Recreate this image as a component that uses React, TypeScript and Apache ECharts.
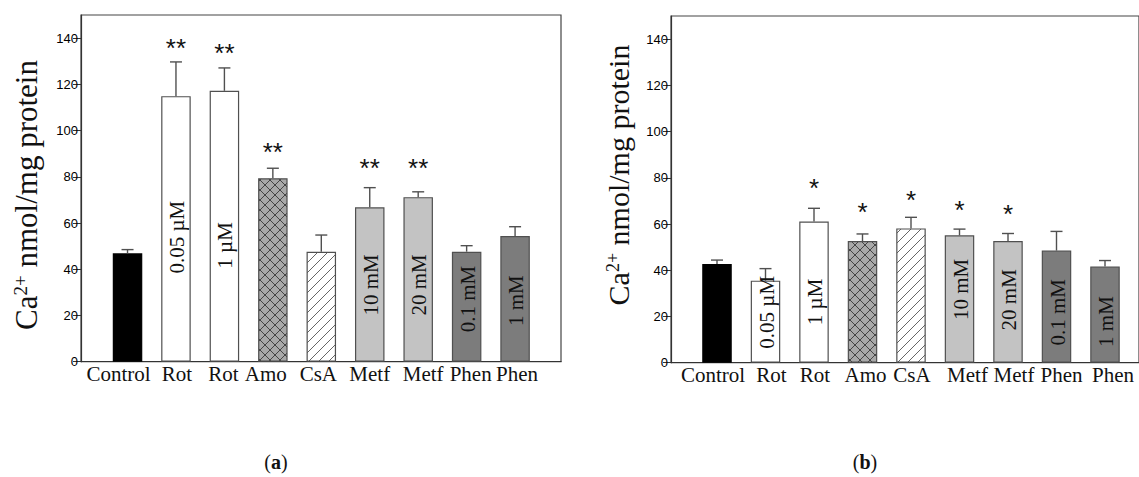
import React, { useEffect, useRef } from 'react';
import * as echarts from 'echarts';

const categories = ['Control', 'Rot', 'Rot', 'Amo', 'CsA', 'Metf', 'Metf', 'Phen', 'Phen'];
const treatments = ['control', 'rot', 'rot', 'amo', 'csa', 'metf', 'metf', 'phen', 'phen'];
const doses = ['', '0.05 µM', '1 µM', '', '', '10 mM', '20 mM', '0.1 mM', '1 mM'];

// Panel (a)
const valuesA = [46.9, 114.9, 117.2, 79.4, 47.6, 66.8, 71.2, 47.6, 54.4];
const errA = [1.6, 14.8, 9.9, 4.3, 7.2, 8.5, 2.3, 2.6, 4.0];
const starsA = ['', '**', '**', '**', '', '**', '**', '', ''];
const starLevelA = [0, 138, 136, 93, 0, 86, 86, 0, 0];
const doseLevelA = [0, 53.9, 50.3, 0, 0, 33.2, 33.2, 27.1, 26.4];

// Panel (b)
const valuesB = [42.7, 35.5, 61.1, 52.6, 58.1, 55.1, 52.6, 48.5, 41.6];
const errB = [1.7, 5.2, 5.7, 3.1, 4.8, 2.7, 3.3, 8.3, 2.6];
const starsB = ['', '', '*', '*', '*', '*', '*', '', ''];
const starLevelB = [0, 0, 77.8, 67.6, 72.7, 68.4, 66.9, 0, 0];
const doseLevelB = [0, 21.8, 26.3, 0, 0, 31.7, 27.2, 21.8, 17.8];

const yTicks = [0, 20, 40, 60, 80, 100, 120, 140];
const yMax = 150;

// horizontal nudges (px) of the category labels, as typeset in the original
const labelShiftA = [-9, 1, -1, -7, -3, 0, 5, 4, 2];
const labelShiftB = [-4, 6, 1, 3, 1, 8, 6, 5, 8];

function makeCross(): HTMLCanvasElement {
  const c = document.createElement('canvas');
  c.width = 10; c.height = 10;
  const ctx = c.getContext('2d')!;
  ctx.fillStyle = '#a9a9a9';
  ctx.fillRect(0, 0, 10, 10);
  ctx.strokeStyle = '#3a3a3a';
  ctx.lineWidth = 0.9;
  ctx.beginPath();
  ctx.moveTo(0, 0); ctx.lineTo(10, 10);
  ctx.moveTo(10, 0); ctx.lineTo(0, 10);
  ctx.stroke();
  return c;
}

function makeHatch(): HTMLCanvasElement {
  const c = document.createElement('canvas');
  c.width = 10; c.height = 10;
  const ctx = c.getContext('2d')!;
  ctx.fillStyle = '#ffffff';
  ctx.fillRect(0, 0, 10, 10);
  ctx.strokeStyle = '#555555';
  ctx.lineWidth = 0.9;
  ctx.beginPath();
  ctx.moveTo(0, 10); ctx.lineTo(10, 0);
  ctx.moveTo(-1, 1); ctx.lineTo(1, -1);
  ctx.moveTo(9, 11); ctx.lineTo(11, 9);
  ctx.stroke();
  return c;
}

function fillFor(kind: string): any {
  switch (kind) {
    case 'control': return '#000000';
    case 'rot': return '#ffffff';
    case 'amo': return { image: makeCross(), repeat: 'repeat' };
    case 'csa': return { image: makeHatch(), repeat: 'repeat' };
    case 'metf': return '#c3c3c3';
    case 'phen': return '#7c7c7c';
  }
  return '#fff';
}

const serif = 'Liberation Serif';
const sans = 'Liberation Sans';

function barSeries(values: number[], axisIdx: number) {
  return {
    type: 'bar',
    xAxisIndex: axisIdx,
    yAxisIndex: axisIdx,
    barWidth: 29.5,
    z: 2,
    data: values.map((v, i) => ({
      value: v,
      itemStyle: {
        color: fillFor(treatments[i]),
        borderColor: treatments[i] === 'control' ? '#000' : '#505050',
        borderWidth: 1.2,
      },
    })),
  };
}

function annoSeries(values: number[], errs: number[], stars: string[], starLevel: number[], doseLevel: number[], axisIdx: number) {
  return {
    type: 'custom',
    xAxisIndex: axisIdx,
    yAxisIndex: axisIdx,
    z: 5,
    data: values.map((v, i) => [i, v]),
    renderItem: (params: any, api: any) => {
      const i = params.dataIndex;
      const base = api.coord([i, values[i]]);
      const top = api.coord([i, values[i] + errs[i]]);
      const children: any[] = [
        { type: 'line', shape: { x1: base[0], y1: base[1], x2: top[0], y2: top[1] }, style: { stroke: '#505050', lineWidth: 1.4 } },
        { type: 'line', shape: { x1: top[0] - 6, y1: top[1], x2: top[0] + 6, y2: top[1] }, style: { stroke: '#505050', lineWidth: 1.4 } },
      ];
      if (stars[i]) {
        const s = api.coord([i, starLevel[i]]);
        children.push({
          type: 'text', x: s[0], y: s[1] + 5.5,
          style: { text: stars[i], fontSize: 26, fontFamily: sans, fill: '#111', align: 'center', verticalAlign: 'middle' },
        });
      }
      if (doses[i]) {
        const d = api.coord([i, doseLevel[i]]);
        children.push({
          type: 'text', x: d[0] + 1, y: d[1], rotation: Math.PI / 2,
          style: { text: doses[i], fontSize: 21, fontFamily: serif, fill: '#111', align: 'center', verticalAlign: 'middle' },
        });
      }
      return { type: 'group', children };
    },
  };
}

function frameX(gridIndex: number) {
  return {
    gridIndex, type: 'value', min: 0, max: 1,
    axisLine: { show: true, onZero: false, lineStyle: { color: '#333', width: 1.2 } },
    axisTick: { show: false }, axisLabel: { show: false }, splitLine: { show: false },
  };
}
function barX(gridIndex: number, shifts: number[]) {
  const rich: any = {};
  shifts.forEach((s, i) => {
    rich['s' + i] = {
      fontSize: 21, fontFamily: serif, color: '#111',
      padding: s < 0 ? [0, -2 * s, 0, 0] : [0, 0, 0, 2 * s],
    };
  });
  return {
    gridIndex, type: 'category', data: categories,
    axisLine: { show: false }, axisTick: { show: false }, splitLine: { show: false },
    axisLabel: {
      interval: 0, margin: 2, fontSize: 21, fontFamily: serif, color: '#111',
      formatter: (v: string, i: number) => `{s${i}|${v}}`,
      rich,
    },
  };
}
function frameY(gridIndex: number) {
  return {
    gridIndex, type: 'value', min: 0, max: yMax,
    axisLine: { show: true, lineStyle: { color: '#333', width: 1.2 } },
    axisTick: { show: true, inside: false, length: 8, customValues: yTicks, lineStyle: { color: '#333' } },
    axisLabel: { customValues: yTicks, margin: 3, fontSize: 13, fontFamily: sans, color: '#000' },
    splitLine: { show: false },
  };
}
function barY(gridIndex: number) {
  return { gridIndex, type: 'value', min: 0, max: yMax, show: false, splitLine: { show: false } };
}

function yTitle(x: number, y: number, size: number) {
  return {
    type: 'text', x, y, rotation: Math.PI / 2,
    style: {
      text: '{m|Ca}{s|2+}{m| nmol/mg protein}',
      align: 'center', verticalAlign: 'middle', fill: '#111',
      rich: {
        m: { fontSize: size, fontFamily: serif, fill: '#111', lineHeight: size * 1.2, verticalAlign: 'bottom' },
        s: { fontSize: Math.round(size * 0.6), fontFamily: serif, fill: '#111', lineHeight: size * 1.2, verticalAlign: 'top', padding: [7, 0, 0, 0] },
      },
    },
  };
}

function caption(x: number, y: number, letter: string) {
  return {
    type: 'text', x, y,
    style: {
      text: `{p|(}{b|${letter}}{p|)}`,
      align: 'center', verticalAlign: 'middle',
      rich: {
        p: { fontSize: 20, fontFamily: serif, fill: '#111' },
        b: { fontSize: 20, fontFamily: serif, fontWeight: 'bold', fill: '#111' },
      },
    },
  };
}

export default function App() {
  const ref = useRef<HTMLDivElement>(null);
  useEffect(() => {
    if (!ref.current) return;
    const chart = echarts.init(ref.current, null, { renderer: 'svg' });
    const h = 346.7;
    chart.setOption({
      animation: false,
      backgroundColor: '#ffffff',
      grid: [
        { left: 81, top: 15, width: 480, height: h, show: true, borderColor: '#444', borderWidth: 1.2, backgroundColor: 'transparent' },
        { left: 103.3, top: 15, width: 436, height: h },
        { left: 671, top: 16, width: 480, height: h, show: true, borderColor: '#444', borderWidth: 1.2, backgroundColor: 'transparent' },
        { left: 692.75, top: 16, width: 436.5, height: h },
      ],
      xAxis: [frameX(0), barX(1, labelShiftA), frameX(2), barX(3, labelShiftB)],
      yAxis: [frameY(0), barY(1), frameY(2), barY(3)],
      series: [
        barSeries(valuesA, 1),
        annoSeries(valuesA, errA, starsA, starLevelA, doseLevelA, 1),
        barSeries(valuesB, 3),
        annoSeries(valuesB, errB, starsB, starLevelB, doseLevelB, 3),
      ],
      graphic: [
        yTitle(23, 195, 31),
        yTitle(615, 175, 30),
        caption(276, 462, 'a'),
        caption(865, 462, 'b'),
      ],
    });
    return () => chart.dispose();
  }, []);
  return <div ref={ref} style={{ position: 'fixed', left: 0, top: 0, width: 1139, height: 477 }} />;
}
